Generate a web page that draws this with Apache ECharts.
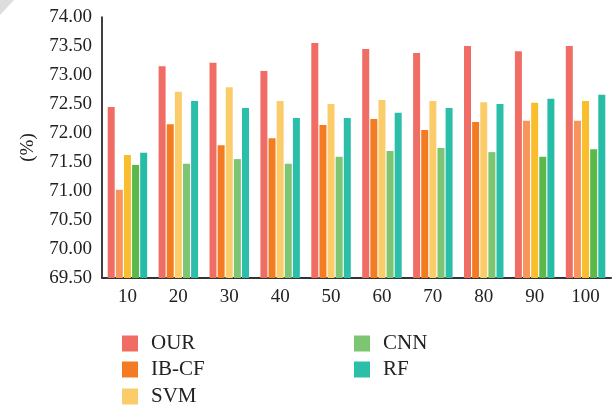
<!DOCTYPE html>
<html><head><meta charset="utf-8">
<script src="https://cdn.jsdelivr.net/npm/echarts@6/dist/echarts.min.js"></script>
<style>html,body{margin:0;padding:0;background:#fff}#c{width:614px;height:408px}</style>
</head><body><div id="c"></div>
<script>
const categories = ['10','20','30','40','50','60','70','80','90','100'];
const seriesNames = ['OUR','IB-CF','SVM','CNN','RF'];
const OUR   = [72.45, 73.15, 73.21, 73.07, 73.55, 73.45, 73.38, 73.50, 73.41, 73.50];
const IBCF  = [71.02, 72.15, 71.79, 71.91, 72.14, 72.24, 72.05, 72.19, 72.21, 72.21];
const SVM   = [71.62, 72.71, 72.79, 72.55, 72.50, 72.57, 72.55, 72.53, 72.52, 72.55];
const CNN   = [71.45, 71.47, 71.55, 71.47, 71.59, 71.69, 71.74, 71.67, 71.59, 71.72];
const RF    = [71.66, 72.55, 72.43, 72.26, 72.26, 72.35, 72.43, 72.50, 72.59, 72.66];
const yTicks = ['69.50','70.00','70.50','71.00','71.50','72.00','72.50','73.00','73.50','74.00'];

const colors = ['#F06D65','#F37C22','#FBCD6A','#7DC572','#2BBEA8'];
const altColors = ['#F06D65','#F7955A','#F9BE2E','#5BB94B','#26BCA6'];
const altGroups = [0, 8, 9];
const values = [OUR, IBCF, SVM, CNN, RF];
const font = 'Liberation Serif';

const series = seriesNames.map((name, s) => ({
  name, type: 'bar', barWidth: 7, barGap: '16%',
  itemStyle: { color: colors[s] },
  data: values[s].map((v, i) => altGroups.includes(i) ? { value: v, itemStyle: { color: altColors[s] } } : v)
}));

const legendPos = [[122, 333], [122, 359], [122, 386], [354, 333], [354, 359]];
const legends = seriesNames.map((n, i) => ({
  data: [n], left: legendPos[i][0], top: legendPos[i][1],
  itemWidth: 16, itemHeight: 16, icon: 'rect', padding: 0,
  textStyle: { fontFamily: font, fontSize: 21, color: '#222', lineHeight: 20, padding: [0,0,0,8] }
}));

const chart = echarts.init(document.getElementById('c'));
chart.setOption({
  animation: false,
  color: colors,
  grid: { left: 102, right: 3, top: 17, bottom: 130 },
  xAxis: {
    type: 'category', data: categories,
    axisLine: { lineStyle: { color: '#333', width: 2 } },
    axisTick: { show: false },
    axisLabel: { fontFamily: font, fontSize: 19, color: '#222', margin: 10 }
  },
  yAxis: {
    type: 'value', min: 69.5, max: 74, interval: 0.5,
    name: '(%)', nameLocation: 'middle', nameGap: 64, nameRotate: 90,
    nameTextStyle: { fontFamily: font, fontSize: 19, color: '#222' },
    axisLine: { show: true, lineStyle: { color: '#000', width: 1.5 } },
    axisTick: { show: false },
    splitLine: { show: false },
    axisLabel: { fontFamily: font, fontSize: 19, color: '#222', margin: 10,
      formatter: v => yTicks[Math.round((v - 69.5) / 0.5)] }
  },
  legend: legends,
  graphic: [{ type: 'polygon', shape: { points: [[0,0],[14,0],[0,15]] }, style: { fill: '#DDDDDD' } }],
  series
});
</script></body></html>
